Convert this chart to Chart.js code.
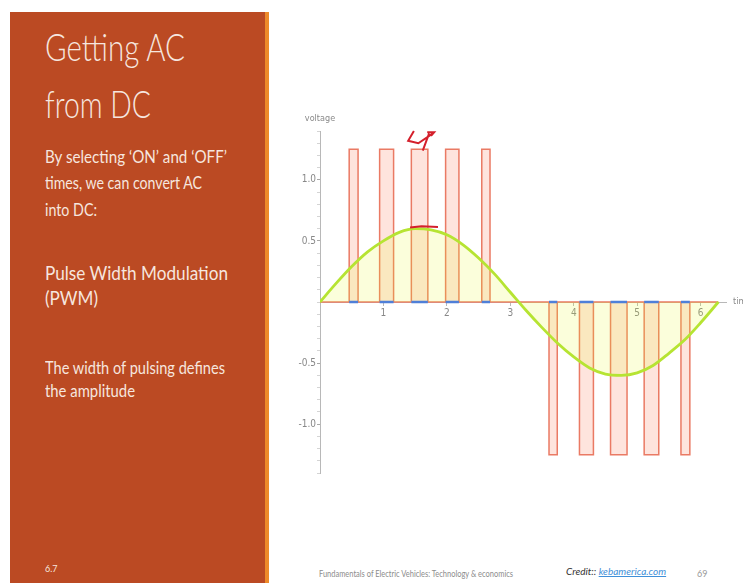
<!DOCTYPE html>
<html>
<head>
<meta charset="utf-8">
<title>Getting AC from DC</title>
<script src="https://cdn.jsdelivr.net/npm/chart.js@4.4.1/dist/chart.umd.min.js"></script>
<style>
  html, body { margin: 0; padding: 0; background: #ffffff; }
  body { width: 743px; height: 583px; position: relative; overflow: hidden; font-family: Lato, "Open Sans", sans-serif; }
  #panel { position: absolute; left: 10px; top: 12px; width: 255px; height: 571px; background: #bb4a23; }
  #stripe { position: absolute; left: 265px; top: 12px; width: 4px; height: 571px; background: #ee8a2a; }
  .line { position: absolute; white-space: nowrap; line-height: 1; transform-origin: left top; color: #f6e6df; }
  .title { font-weight: 300; font-size: 38px; }
  .body { font-size: 17px; }
  .sub { font-size: 20px; }
  .foot { position: absolute; white-space: nowrap; line-height: 1; transform-origin: left top; }
  #chartBox { position: absolute; left: 280px; top: 100px; width: 463px; height: 400px; }
</style>
</head>
<body>
<div id="panel"></div>
<div id="stripe"></div>

<div class="line title" style="left:45px; top:27px;" data-w="140">Getting AC</div>
<div class="line title" style="left:45px; top:84px;" data-w="106">from DC</div>
<div class="line body" style="left:45px; top:148px;" data-w="182">By selecting ‘ON’ and ‘OFF’</div>
<div class="line body" style="left:45px; top:174px;" data-w="157">times, we can convert AC</div>
<div class="line body" style="left:45px; top:201px;" data-w="52">into DC:</div>
<div class="line sub" style="left:45px; top:262px;" data-w="183">Pulse Width Modulation</div>
<div class="line sub" style="left:45px; top:287px;" data-w="53">(PWM)</div>
<div class="line body" style="left:45px; top:359px;" data-w="180">The width of pulsing defines</div>
<div class="line body" style="left:45px; top:382px;" data-w="90">the amplitude</div>
<div class="line" style="left:45px; top:564px; font-size:9px;">6.7</div>

<div class="foot" style="left:319px; top:569px; font-size:9px; color:#8c8c8c;" data-w="194">Fundamentals of Electric Vehicles: Technology &amp; economics</div>
<div class="foot" style="left:566px; top:566px; font-size:10px; font-style:italic; color:#333;">Credit:: <span style="color:#3f8fd8; text-decoration:underline;">kebamerica.com</span></div>
<div class="foot" style="left:697px; top:569px; font-size:9px; color:#999;">69</div>

<div id="chartBox"><canvas id="pwm"></canvas></div>

<script>
// Reference sine wave (voltage against time)
const sineTimes = [0, 0.25, 0.5, 0.75, 1, 1.25, 1.5, 1.75, 2, 2.25, 2.5, 2.75, 3, 3.25, 3.5, 3.75, 4, 4.25, 4.5, 4.75, 5, 5.25, 5.5, 5.75, 6, 6.28];
const sineVolts = [0, 0.15, 0.29, 0.41, 0.50, 0.57, 0.60, 0.59, 0.55, 0.47, 0.36, 0.23, 0.08, -0.07, -0.21, -0.34, -0.45, -0.54, -0.59, -0.60, -0.58, -0.52, -0.42, -0.31, -0.17, 0];

// PWM pulses: switch-on time, switch-off time, level
const pulseStart = [0.46, 0.94, 1.44, 1.98, 2.55, 3.61, 4.09, 4.58, 5.11, 5.69];
const pulseEnd   = [0.60, 1.16, 1.70, 2.19, 2.68, 3.74, 4.31, 4.84, 5.34, 5.83];
const pulseLevel = [1.25, 1.25, 1.25, 1.25, 1.25, -1.25, -1.25, -1.25, -1.25, -1.25];
const signalEnd = 6.28;

// Hand-drawn pen strokes (null breaks a stroke)
const inkTimes = [1.48, 1.39, 1.55, 1.78, null, 1.69, 1.80, 1.75, null, 1.72, 1.62, null, 1.42, 1.60, 1.86];
const inkVolts = [1.40, 1.32, 1.30, 1.38, null, 1.39, 1.39, 1.36, null, 1.38, 1.24, null, 0.61, 0.62, 0.615];

// Axis ticks
const xTickValues = [1, 2, 3, 4, 5, 6];
const yTickLabels = { "1": "1.0", "0.5": "0.5", "-0.5": "-0.5", "-1": "-1.0" };

// Scale each text line to its set width
document.querySelectorAll('[data-w]').forEach(el => {
  el.style.display = 'inline-block';
  const w = el.getBoundingClientRect().width;
  el.style.transform = 'scaleX(' + (parseFloat(el.dataset.w) / w) + ')';
});

// Step waveform of the switched output
const pwmPoints = [{ x: 0, y: 0 }];
pulseStart.forEach((s, i) => {
  pwmPoints.push({ x: s, y: 0 }, { x: s, y: pulseLevel[i] }, { x: pulseEnd[i], y: pulseLevel[i] }, { x: pulseEnd[i], y: 0 });
});
pwmPoints.push({ x: signalEnd, y: 0 });

// ON intervals marked along the time axis
const onPoints = [];
pulseStart.forEach((s, i) => {
  onPoints.push({ x: s, y: 0 }, { x: pulseEnd[i], y: 0 }, { x: pulseEnd[i], y: null });
});

const sinePoints = sineTimes.map((t, i) => ({ x: t, y: sineVolts[i] }));
const inkPoints = inkTimes.map((t, i) => ({ x: t === null ? inkTimes[i - 1] : t, y: inkVolts[i] }));

const axisLabels = {
  id: 'axisLabels',
  afterDraw(chart) {
    const { ctx, chartArea, scales } = chart;
    ctx.save();
    ctx.fillStyle = '#8a8a8a';
    ctx.font = '9px "Liberation Sans Narrow", "DejaVu Sans Condensed", "Liberation Sans", sans-serif';
    ctx.textAlign = 'center';
    ctx.textBaseline = 'middle';
    ctx.fillText('voltage', scales.x.getPixelForValue(0), chartArea.top - 12);
    ctx.textAlign = 'left';
    ctx.fillText('time', chartArea.right + 7, scales.y.getPixelForValue(0));
    ctx.restore();
  }
};

const tickFont = { family: '"Liberation Sans Narrow", "DejaVu Sans Condensed", "Liberation Sans", sans-serif', size: 10 };

new Chart(document.getElementById('pwm'), {
  type: 'scatter',
  data: {
    datasets: [
      {
        label: 'pen',
        data: inkPoints,
        showLine: true,
        spanGaps: false,
        borderColor: '#d4202c',
        borderWidth: 2,
        pointRadius: 0,
        clip: false,
        order: 0
      },
      {
        label: 'on',
        data: onPoints,
        showLine: true,
        spanGaps: false,
        borderColor: '#4f7fd8',
        borderWidth: 2.5,
        pointRadius: 0,
        order: 1
      },
      {
        label: 'sine',
        data: sinePoints,
        showLine: true,
        borderColor: '#b6e432',
        borderWidth: 2.8,
        backgroundColor: 'rgba(232, 250, 40, 0.17)',
        fill: 'origin',
        cubicInterpolationMode: 'monotone',
        pointRadius: 0,
        order: 2
      },
      {
        label: 'pwm',
        data: pwmPoints,
        showLine: true,
        tension: 0,
        borderColor: '#ea7a64',
        borderWidth: 1.5,
        backgroundColor: 'rgba(250, 130, 100, 0.22)',
        fill: 'origin',
        pointRadius: 0,
        order: 3
      }
    ]
  },
  options: {
    responsive: true,
    maintainAspectRatio: false,
    animation: false,
    events: [],
    layout: { padding: { top: 31, left: 0, right: 17, bottom: 27 } },
    plugins: { legend: { display: false }, tooltip: { enabled: false } },
    scales: {
      x: {
        type: 'linear',
        min: 0,
        max: 6.4,
        position: { y: 0 },
        border: { color: '#b8b8b8', width: 1 },
        grid: { drawOnChartArea: false, tickLength: 3, tickColor: '#b8b8b8' },
        ticks: {
          stepSize: 1,
          includeBounds: false,
          autoSkip: false,
          maxRotation: 0,
          padding: 2,
          color: '#888',
          font: tickFont,
          callback: v => xTickValues.includes(v) ? String(v) : ''
        },
        afterFit: s => { s.height = 0; }
      },
      y: {
        type: 'linear',
        min: -1.4,
        max: 1.4,
        position: 'left',
        border: { color: '#b8b8b8', width: 1 },
        grid: {
          drawOnChartArea: false,
          tickLength: 3,
          tickColor: c => {
            const v = Math.round(c.tick.value * 10) / 10;
            return yTickLabels[String(v)] ? '#a8a8a8' : '#d4d4d4';
          }
        },
        ticks: {
          stepSize: 0.1,
          autoSkip: false,
          padding: 1,
          color: '#888',
          font: tickFont,
          callback: v => yTickLabels[String(Math.round(v * 10) / 10)] || ''
        },
        afterFit: s => { s.width = 40; }
      }
    }
  },
  plugins: [axisLabels]
});
</script>
</body>
</html>
